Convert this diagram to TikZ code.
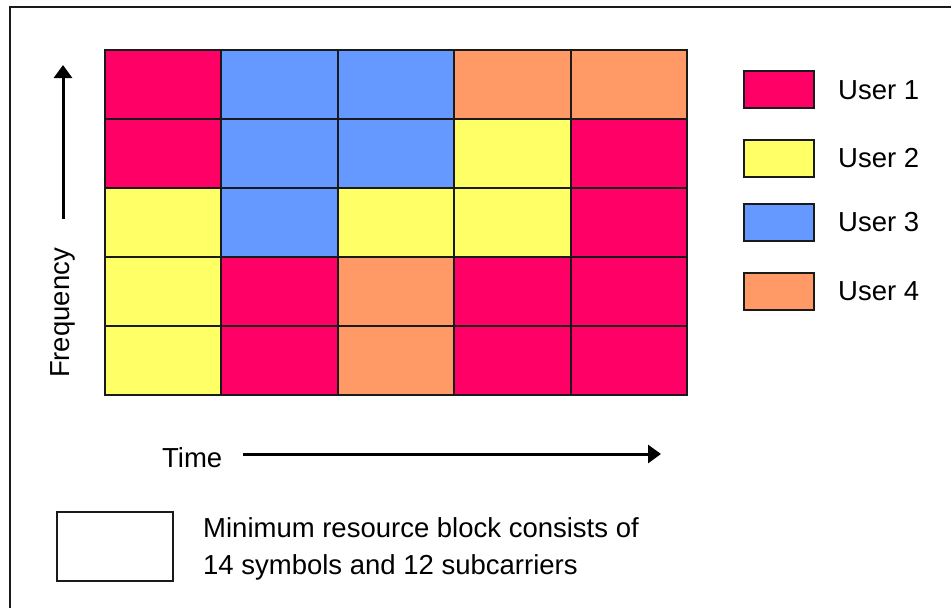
\documentclass[tikz,border=0pt]{standalone}
\usepackage{fontspec}
\setmainfont{Liberation Sans}
\usetikzlibrary{arrows.meta}
\definecolor{uone}{HTML}{FF0066}
\definecolor{utwo}{HTML}{FFFF66}
\definecolor{uthree}{HTML}{6699FF}
\definecolor{ufour}{HTML}{FF9966}
\definecolor{edge}{HTML}{1A1A1A}
\tikzset{
  cell/.style={draw=edge, line width=2pt, minimum width=116.4pt, minimum height=69.1pt, inner sep=0pt, outer sep=0pt},
  legbox/.style={draw=edge, line width=2pt, minimum width=70pt, minimum height=37pt, inner sep=0pt},
  lbl/.style={font=\fontsize{27.5}{33}\selectfont, inner sep=0pt},
  axis/.style={line width=3pt, -{Triangle[length=13pt,width=18pt]}},
}
\begin{document}
\begin{tikzpicture}[x=1pt,y=-1pt]
\useasboundingbox (0,0) rectangle (951,608);
\fill[white] (0,0) rectangle (951,608);
% outer frame (top and left edges visible)
\coordinate (fbl) at (10,608);
\coordinate (ftl) at (10,7);
\coordinate (ftr) at (951,7);
\draw[line width=2pt, edge] (fbl) -- (ftl) -- (ftr);
% grid
\foreach \r/\row in {1/{uone,uthree,uthree,ufour,ufour},
                     2/{uone,uthree,uthree,utwo,uone},
                     3/{utwo,uthree,utwo,utwo,uone},
                     4/{utwo,uone,ufour,uone,uone},
                     5/{utwo,uone,ufour,uone,uone}}{
  \foreach \col [count=\c] in \row {
    \node[cell, fill=\col] (c-\r-\c) at ({105+116.4*(\c-0.5)},{49.5+69.1*(\r-0.5)}) {};
  }
}
% legend
\foreach \i/\col/\yy in {1/uone/89.7, 2/utwo/158.5, 3/uthree/222.5, 4/ufour/291.4}{
  \node[legbox, fill=\col] (leg\i) at (779.3,\yy) {};
  \node[lbl, anchor=west] (legt\i) at (838,\yy) {User \i};
}
% frequency axis
\node[lbl, rotate=90] (freq) at (63,313) {Frequency};
\coordinate (fbot) at (63,219);
\coordinate (ftop) at (63,65);
\draw[axis] (fbot) -- (ftop);
% time axis
\node[lbl, anchor=west] (time) at (162,458) {Time};
\coordinate (tleft) at (243,454);
\coordinate (tright) at (661,454);
\draw[axis] (tleft) -- (tright);
% minimum resource block
\node[draw=edge, line width=2pt, minimum width=116pt, minimum height=69.5pt, inner sep=0pt] (minblk) at (115,546.5) {};
\node[lbl, anchor=west, align=left, font=\fontsize{27.5}{37}\selectfont] (mintxt) at (203,549) {Minimum resource block consists of\\14 symbols and 12 subcarriers};
\end{tikzpicture}
\end{document}
